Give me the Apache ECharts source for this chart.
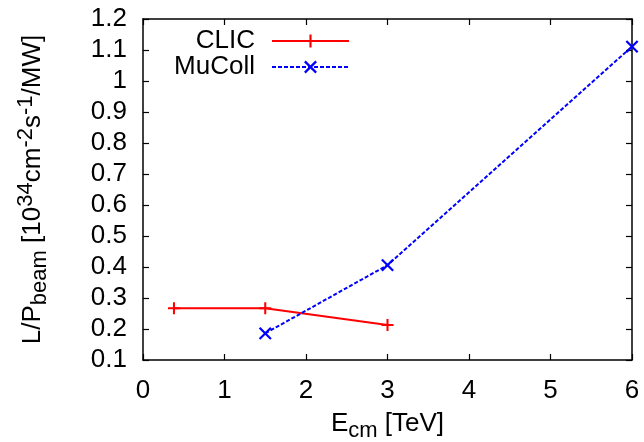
<!DOCTYPE html>
<html><head><meta charset="utf-8">
<script src="https://cdn.jsdelivr.net/npm/echarts@6/dist/echarts.min.js"></script>
<style>html,body{margin:0;padding:0;background:#fff}#c{width:644px;height:442px}</style>
</head><body><div id="c"></div>
<script>
const clicX = [0.38, 1.5, 3];
const clicY = [0.267, 0.267, 0.213];
const mucollX = [1.5, 3, 6];
const mucollY = [0.186, 0.406, 1.111];
const xRange = [0, 6, 1];
const yRange = [0.1, 1.2, 0.1];

const FONT = 'Liberation Sans, Arial, sans-serif';
const FS = 26;
const SFS = 22;
const plusPath = 'path://M-1.7,-10H1.7V10H-1.7ZM-10,-1.7H10V1.7H-10Z';
const crossPath = 'path://M-1.4,-10H1.4V10H-1.4ZM-10,-1.4H10V1.4H-10Z';

const zip = (xs, ys) => xs.map((x, i) => [x, ys[i]]);

const axisCommon = {
  axisLine: {show: true, onZero: false, lineStyle: {color: '#000', width: 1.5}},
  axisTick: {show: true, inside: true, length: 6, lineStyle: {color: '#000', width: 1.2}},
  splitLine: {show: false}
};
const richName = {
  n: {fontFamily: FONT, fontSize: FS, color: '#000', lineHeight: 36, verticalAlign: 'middle'},
  s: {fontFamily: FONT, fontSize: SFS, color: '#000', lineHeight: 18, verticalAlign: 'bottom'},
  p: {fontFamily: FONT, fontSize: SFS, color: '#000', lineHeight: 18, verticalAlign: 'top'}
};
function legendFor(name, top, ih) {
  return {data: [name], right: 294, top: top, orient: 'vertical', align: 'right', selectedMode: false,
    itemWidth: 77, itemHeight: ih, padding: 0,
    formatter: n => '{t|' + n + '}',
    textStyle: {color: '#000', fontFamily: FONT, fontSize: FS,
      rich: {t: {color: '#000', fontFamily: FONT, fontSize: FS, padding: [0, 12, 0, 0]}}}};
}

const chart = echarts.init(document.getElementById('c'), null, {renderer: 'canvas'});
chart.setOption({
  animation: false,
  backgroundColor: '#fff',
  grid: {left: 143, right: 12, top: 19, bottom: 82, containLabel: false, outerBoundsMode: 'none'},
  legend: [legendFor('CLIC', 28, 16), legendFor('MuColl', 54, 20)],
  xAxis: [
    Object.assign({type: 'value', position: 'bottom', min: xRange[0], max: xRange[1], interval: xRange[2],
      name: '{n|E}{s|cm}{n| [TeV]}', nameLocation: 'middle', nameGap: 46,
      nameTextStyle: {color: '#000', fontFamily: FONT, fontSize: FS, rich: richName},
      axisLabel: {color: '#000', fontFamily: FONT, fontSize: FS, margin: 18}}, axisCommon),
    Object.assign({type: 'value', position: 'top', min: xRange[0], max: xRange[1], interval: xRange[2],
      axisLabel: {show: false}}, axisCommon)
  ],
  yAxis: [
    Object.assign({type: 'value', position: 'left', min: yRange[0], max: yRange[1], interval: yRange[2],
      name: '{n|L/P}{s|beam}{n| [10}{p|34}{n|cm}{p|-2}{n|s}{p|-1}{n|/MW]}', nameLocation: 'middle', nameGap: 92,
      nameTextStyle: {color: '#000', fontFamily: FONT, fontSize: FS, rich: richName},
      axisLabel: {color: '#000', fontFamily: FONT, fontSize: FS, margin: 16}}, axisCommon),
    Object.assign({type: 'value', position: 'right', min: yRange[0], max: yRange[1], interval: yRange[2],
      axisLabel: {show: false}}, axisCommon)
  ],
  series: [
    {name: 'CLIC', type: 'line', data: zip(clicX, clicY), xAxisIndex: 0, yAxisIndex: 0,
     symbol: plusPath, symbolSize: 12, showSymbol: true, color: '#ff0000',
     lineStyle: {color: '#ff0000', width: 2}, itemStyle: {color: '#ff0000'}},
    {name: 'MuColl', type: 'line', data: zip(mucollX, mucollY), xAxisIndex: 0, yAxisIndex: 0,
     symbol: crossPath, symbolSize: 16, symbolRotate: 45, showSymbol: true, color: '#0000ff',
     lineStyle: {color: '#0000ff', width: 2, type: [4, 2]}, itemStyle: {color: '#0000ff'}}
  ]
});
</script></body></html>
